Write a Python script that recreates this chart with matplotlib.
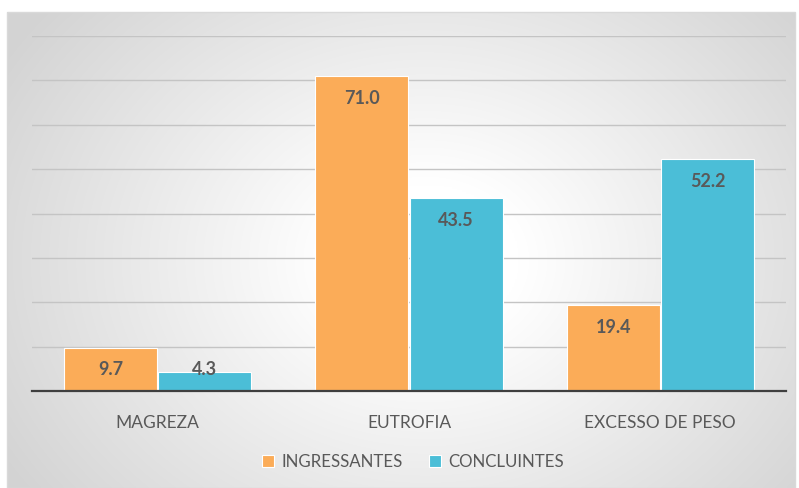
import numpy as np
import matplotlib
matplotlib.use("Agg")
import matplotlib.pyplot as plt
from matplotlib.patches import Rectangle

categorias = ["MAGREZA", "EUTROFIA", "EXCESSO DE PESO"]
ingressantes = [9.7, 71.0, 19.4]
concluintes = [4.3, 43.5, 52.2]
series = ["INGRESSANTES", "CONCLUINTES"]

laranja = "#FBAC58"
ciano = "#4BBED7"
cinza_txt = "#595959"

plt.rcParams['font.family'] = ['Lato', 'DejaVu Sans']

W, H = 799, 488
fig = plt.figure(figsize=(W / 100, H / 100), dpi=100)
fig.patch.set_facecolor("white")

# fundo com gradiente radial (moldura do grafico)
bg = fig.add_axes([7 / W, 0, (795 - 7) / W, (H - 12) / H])
ny, nx = 300, 500
yy, xx = np.mgrid[0:ny, 0:nx]
cx, cy = 0.53 * nx, 0.52 * ny
r = np.sqrt(((xx - cx) / nx) ** 2 + ((yy - cy) / ny * 0.75) ** 2)
val = 1.0 - np.clip((r - 0.12) / 0.5, 0, 1) * 0.17
bg.imshow(np.dstack([val, val, val]), aspect="auto", extent=[0, 1, 0, 1], interpolation="bilinear")
bg.set_xlim(0, 1)
bg.set_ylim(0, 1)
bg.axis("off")
fig.patches.append(Rectangle((7 / W, 0), (795 - 7) / W, (H - 12) / H, transform=fig.transFigure,
                             fill=False, edgecolor="#d9d9d9", linewidth=1))

ax = fig.add_axes([32 / W, 1 - 391 / H, (786 - 32) / W, (391 - 36) / H])
ax.patch.set_alpha(0)

x = np.arange(len(categorias))
w = 0.37
off = 0.188
b1 = ax.bar(x - off, ingressantes, w, color=laranja, edgecolor="white", linewidth=0.8, zorder=3)
b2 = ax.bar(x + off, concluintes, w, color=ciano, edgecolor="white", linewidth=0.8, zorder=3)

ax.set_ylim(0, 80)
ax.set_xlim(-0.5, 2.5)
ax.set_yticks(np.arange(0, 81, 10))
ax.yaxis.grid(True, color="#c4c4c4", linewidth=1)
ax.set_axisbelow(True)
ax.tick_params(axis="y", left=False, labelleft=False)
ax.tick_params(axis="x", bottom=False, pad=14)
ax.set_xticks(x)
ax.set_xticklabels(categorias, fontsize=12.5, color=cinza_txt)
for s in ["top", "right", "left"]:
    ax.spines[s].set_visible(False)
ax.spines["bottom"].set_color("#3f3f3f")
ax.spines["bottom"].set_linewidth(1.6)
ax.spines["bottom"].set_zorder(4)

for bars, vals in [(b1, ingressantes), (b2, concluintes)]:
    for b, v in zip(bars, vals):
        yl = max(v - 5.0, 4.75)
        ax.text(b.get_x() + b.get_width() / 2, yl, f"{v:.1f}", ha="center", va="center",
                fontsize=13, fontweight="bold", color=cinza_txt, zorder=5)

leg = fig.legend([b1, b2], series, loc="center", bbox_to_anchor=(0.517, 1 - 462 / H), ncol=2,
                 frameon=False, fontsize=12.2, handlelength=0.7, handleheight=0.7,
                 handletextpad=0.4, columnspacing=1.6)
for t in leg.get_texts():
    t.set_color(cinza_txt)

fig.savefig("out.png", dpi=100)
